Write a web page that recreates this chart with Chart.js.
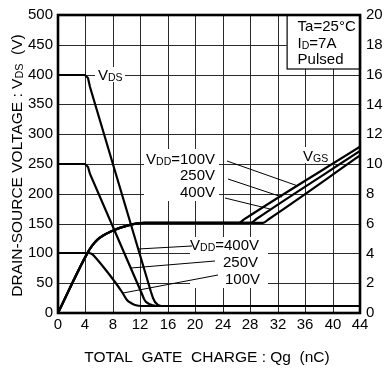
<!DOCTYPE html>
<html><head><meta charset="utf-8">
<script src="https://cdn.jsdelivr.net/npm/chart.js@4"></script>
<style>html,body{margin:0;padding:0;background:#fff}canvas{display:block}</style>
</head><body>
<canvas id="c" width="391" height="368"></canvas>
<script>
// ---- tick labels ----
const qTicks   = [0,4,8,12,16,20,24,28,32,36,40,44];
const vdsTicks = [0,50,100,150,200,250,300,350,400,450,500];
const vgsTicks = [0,2,4,6,8,10,12,14,16,18,20];

// ---- VDS curves (left axis, V) ----
const qVds400 = [0,3.6,4.0,4.3,4.7,13.5,13.8,14.1,14.5,15.0,15.5,44];
const vVds400 = [400,400,399,394,380,36,25,18,14,12.5,12,12];
const qVds250 = [0,3.9,4.15,4.4,4.7,12.2,12.5,12.8,13.2,13.7,14.3,44];
const vVds250 = [250,250,249,245,234,32,24,18.5,14.5,12.7,12,12];
const qVds100 = [0,4.3,4.9,5.4,6.87,8.33,9.3,10.0,10.6,11.2,12.2,13.0,44];
const vVds100 = [100,100,98.5,94,74,52,35,22,16,13.5,12.2,12,12];

// ---- VGS curves (right axis, V) ----
const qVgs100 = [0,4.2,4.9,5.9,7.8,10.3,12.5,26.3,27.1,44];
const vVgs100 = [0,3.97,4.5,4.96,5.5,5.9,6.05,6.05,6.28,11.16];
const qVgs250 = [0,4.2,4.9,5.9,7.8,10.3,12.5,28.1,28.9,44];
const vVgs250 = [0,3.97,4.5,4.96,5.5,5.9,6.05,6.05,6.29,10.87];
const qVgs400 = [0,4.2,4.9,5.9,7.8,10.3,12.5,29.9,30.7,44];
const vVgs400 = [0,3.97,4.5,4.96,5.5,5.9,6.05,6.05,6.31,10.57];

const FONT = "'Liberation Sans', Arial, Helvetica, sans-serif";

function pts(q, v){ return q.map((x,i)=>({x:x, y:v[i]})); }
function ds(q, v, axis, smooth){
  return {data:pts(q,v), yAxisID:axis, borderColor:'#000', borderWidth:2.2,
          pointRadius:0, fill:false,
          cubicInterpolationMode: smooth ? 'monotone' : 'default', tension:0};
}

// annotation layout (data coordinates: x = nC, y = left axis V)
const leaderLines = [
  [24.58,254.2,35.0,212.6],
  [24.81,225.4,32.59,194.4],
  [24.33,192.2,30.89,173.9],
  [11.67,107.5,19.48,113.0],
  [10.6,75,22.87,86.9],
  [9.4,34,23.35,63.1]
];
const labelDefs = [
  {parts:[['V',0],['DS',1]], x:5.9, y:400, align:'left'},
  {parts:[['V',0],['DD',1],['=100V',0]], x:22.9, y:258.6, align:'right'},
  {parts:[['250V',0]], x:22.9, y:232, align:'right'},
  {parts:[['400V',0]], x:22.9, y:203, align:'right'},
  {parts:[['V',0],['GS',1]], x:35.65, y:264, align:'left'},
  {parts:[['V',0],['DD',1],['=400V',0]], x:29.35, y:114.6, align:'right'},
  {parts:[['250V',0]], x:29.2, y:85, align:'right'},
  {parts:[['100V',0]], x:29.4, y:56.5, align:'right'}
];
// white boxes behind labels: [x0,y0,x1,y1] in data coords
const whiteBoxes = [
  [5.4,413,9.7,387],
  [12.6,275,23.5,188],
  [19.2,128,30.6,42],
  [35.2,278,39.3,251]
];

function rich(ctx, parts, x, yMid, align, size){
  const sub = size*0.7;
  let widths = parts.map(p=>{ ctx.font = (p[1]?sub:size)+'px '+FONT; return ctx.measureText(p[0]).width; });
  const total = widths.reduce((a,b)=>a+b,0);
  let cx = align==='right' ? x-total : (align==='center' ? x-total/2 : x);
  const base = yMid + size*0.36;
  ctx.textBaseline = 'alphabetic'; ctx.textAlign='left'; ctx.fillStyle='#000';
  parts.forEach((p,i)=>{
    ctx.font = (p[1]?sub:size)+'px '+FONT;
    ctx.fillText(p[0], cx, base + (p[1]?0.5:0));
    cx += widths[i];
  });
  return total;
}

const deco = {
  id:'deco',
  beforeDatasetsDraw(chart){
    const {ctx, scales:{x, y}} = chart;
    ctx.save();
    ctx.fillStyle = '#fff';
    whiteBoxes.forEach(b=>{
      const x0=x.getPixelForValue(b[0]), x1=x.getPixelForValue(b[2]);
      const y0=y.getPixelForValue(b[1]), y1=y.getPixelForValue(b[3]);
      ctx.fillRect(x0,y0,x1-x0,y1-y0);
    });
    ctx.restore();
  },
  afterDatasetsDraw(chart){
    const {ctx, chartArea:a, scales:{x, y}} = chart;
    ctx.save();
    // leader lines
    ctx.strokeStyle='#000'; ctx.lineWidth=1;
    leaderLines.forEach(l=>{
      ctx.beginPath();
      ctx.moveTo(x.getPixelForValue(l[0]), y.getPixelForValue(l[1]));
      ctx.lineTo(x.getPixelForValue(l[2]), y.getPixelForValue(l[3]));
      ctx.stroke();
    });
    // labels
    labelDefs.forEach(d=>{
      rich(ctx, d.parts, x.getPixelForValue(d.x), y.getPixelForValue(d.y), d.align, 15);
    });
    // condition box
    const bx = a.left + (a.right-a.left)*0.757, by = a.top, bw = a.right-bx, bh = 54;
    ctx.fillStyle='#fff'; ctx.fillRect(bx,by,bw,bh);
    ctx.strokeStyle='#000'; ctx.lineWidth=1.2; ctx.strokeRect(bx+0.5,by,bw,bh);
    rich(ctx, [['Ta=25°C',0]], bx+11, by+11, 'left', 15);
    rich(ctx, [['I',0],['D',1],['=7A',0]], bx+11, by+28, 'left', 15);
    rich(ctx, [['Pulsed',0]], bx+11, by+43.5, 'left', 15);
    // frame
    ctx.lineWidth=2.6; ctx.strokeStyle='#000';
    ctx.strokeRect(a.left, a.top, a.right-a.left, a.bottom-a.top);
    // axis titles
    ctx.save();
    ctx.translate(16.5, (a.top+a.bottom)/2 + 1.5);
    ctx.rotate(-Math.PI/2);
    rich(ctx, [['DRAIN-SOURCE VOLTAGE : V',0],['DS',1],['  (V)',0]], 0, 0, 'center', 15.5);
    ctx.restore();
    rich(ctx, [['TOTAL  GATE  CHARGE : Qg  (nC)',0]], 207, 356.5, 'center', 15.5);
    ctx.restore();
  }
};

const tickFont = {family: FONT, size: 15};

new Chart(document.getElementById('c'), {
  type:'line',
  data:{datasets:[
    ds(qVds400, vVds400, 'y', false),
    ds(qVds250, vVds250, 'y', false),
    ds(qVds100, vVds100, 'y', true),
    ds(qVgs100, vVgs100, 'y2', true),
    ds(qVgs250, vVgs250, 'y2', true),
    ds(qVgs400, vVgs400, 'y2', true)
  ]},
  options:{
    responsive:false, animation:false, devicePixelRatio:1,
    layout:{padding:{top:12,left:0,right:0,bottom:0}},
    plugins:{legend:{display:false}, tooltip:{enabled:false}},
    scales:{
      x:{type:'linear', min:0, max:44, alignToPixels:true,
         afterBuildTicks:s=>{ s.ticks = qTicks.map(v=>({value:v})); },
         ticks:{font:tickFont, color:'#000', padding:3, maxRotation:0, autoSkip:false},
         grid:{color:'#2a2a2a', lineWidth:1, drawTicks:false},
         border:{display:false},
         afterFit:s=>{ s.height = 55; }},
      y:{type:'linear', position:'left', min:0, max:500, alignToPixels:true,
         afterBuildTicks:s=>{ s.ticks = vdsTicks.map(v=>({value:v})); },
         ticks:{font:tickFont, color:'#000', padding:5, autoSkip:false},
         grid:{color:'#2a2a2a', lineWidth:1, drawTicks:false},
         border:{display:false},
         afterFit:s=>{ s.width = 58; }},
      y2:{type:'linear', position:'right', min:0, max:20,
         afterBuildTicks:s=>{ s.ticks = vgsTicks.map(v=>({value:v})); },
         ticks:{font:tickFont, color:'#000', padding:6, autoSkip:false},
         grid:{display:false, drawTicks:false},
         border:{display:false},
         afterFit:s=>{ s.width = 31; }}
    }
  },
  plugins:[deco]
});
</script>
</body></html>
